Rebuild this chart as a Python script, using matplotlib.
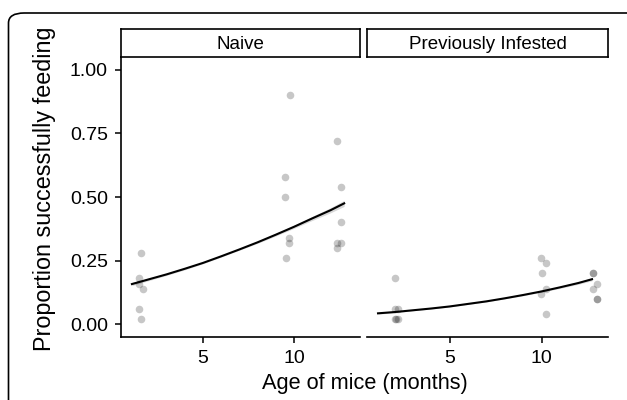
import numpy as np
import matplotlib
matplotlib.use("Agg")
import matplotlib.pyplot as plt
from matplotlib.patches import FancyBboxPatch

plt.rcParams['font.family'] = ['Liberation Sans', 'DejaVu Sans']

panels = ['Naive', 'Previously Infested']

# points (jittered age, proportion feeding)
naive_age = [1.59, 1.48, 1.48, 1.70, 1.48, 1.59,
             9.78, 9.49, 9.49, 9.74, 9.74, 9.58,
             12.35, 12.58, 12.58, 12.35, 12.58, 12.35]
naive_prop = [0.28, 0.18, 0.16, 0.14, 0.06, 0.02,
              0.90, 0.58, 0.50, 0.34, 0.32, 0.26,
              0.72, 0.54, 0.40, 0.32, 0.32, 0.30]
prev_age = [2.0, 2.0, 2.2, 2.0, 2.2, 2.1,
            9.98, 10.22, 10.04, 10.27, 9.98, 10.22,
            12.79, 12.79, 13.04, 12.79, 13.04, 13.04]
prev_prop = [0.18, 0.06, 0.06, 0.02, 0.02, 0.02,
             0.26, 0.24, 0.20, 0.14, 0.12, 0.04,
             0.20, 0.20, 0.16, 0.14, 0.10, 0.10]

# fitted curves
fit_age = [1.1, 2, 3, 4, 5, 6, 7, 8, 9, 10, 11, 12, 12.75]
naive_fit = [0.158, 0.176, 0.196, 0.218, 0.241, 0.267, 0.294,
             0.322, 0.352, 0.383, 0.416, 0.448, 0.475]
naive_se = [0.006, 0.005, 0.004, 0.004, 0.003, 0.003, 0.003,
            0.004, 0.005, 0.006, 0.008, 0.010, 0.012]
prev_fit = [0.043, 0.048, 0.055, 0.062, 0.070, 0.080, 0.090,
            0.102, 0.115, 0.129, 0.145, 0.162, 0.177]
prev_se = [0.003, 0.003, 0.002, 0.002, 0.002, 0.002, 0.002,
           0.002, 0.003, 0.003, 0.004, 0.005, 0.006]

yticks = [0.0, 0.25, 0.5, 0.75, 1.0]
ytick_labels = ['0.00', '0.25', '0.50', '0.75', '1.00']
xticks = [5, 10]

W, H = 627, 400
fig = plt.figure(figsize=(W / 100, H / 100), dpi=100)

# rounded outer frame, only top-left visible
frame = FancyBboxPatch((8.5 / W, -60 / H), (660 - 8.5) / W, (H - 13 + 60) / H,
                       boxstyle="round,pad=0,rounding_size=0.025",
                       transform=fig.transFigure, fill=False, lw=1.2,
                       ec='black', clip_on=False)
fig.patches.append(frame)

bottom = 1 - 337 / H
height = (337 - 57) / H
lefts = [121 / W, 367 / W]
widths = [(360 - 121) / W, (608 - 367) / W]

data = [(naive_age, naive_prop, naive_fit, naive_se),
        (prev_age, prev_prop, prev_fit, prev_se)]

for i, name in enumerate(panels):
    ax = fig.add_axes([lefts[i], bottom, widths[i], height])
    age, prop, fit, se = data[i]
    ax.scatter(age, prop, s=30, color='black', alpha=0.22, lw=0, zorder=2)
    lo = np.array(fit) - np.array(se)
    hi = np.array(fit) + np.array(se)
    ax.fill_between(fit_age, lo, hi, color='grey', alpha=0.3, lw=0, zorder=1)
    ax.plot(fit_age, fit, color='black', lw=1.5, zorder=3)
    ax.set_xlim(0.5, 13.62)
    ax.set_ylim(-0.05, 1.05)
    ax.set_xticks(xticks)
    ax.set_xticklabels([str(t) for t in xticks])
    ax.set_yticks(yticks)
    for s in ['top', 'right']:
        ax.spines[s].set_visible(False)
    ax.spines['bottom'].set_linewidth(1.2)
    ax.spines['left'].set_linewidth(1.2)
    ax.tick_params(direction='out', length=4, width=1.1, labelsize=14,
                   colors='black', pad=5.5)
    if i == 0:
        ax.set_yticklabels(ytick_labels)
        ax.set_ylabel('Proportion successfully feeding', fontsize=16.8)
        ax.yaxis.set_label_coords(-0.27, 0.53)
    else:
        ax.spines['left'].set_visible(False)
        ax.tick_params(axis='y', left=False, labelleft=False)

    # strip
    strip = fig.add_axes([lefts[i], 1 - 57 / H, widths[i], 28 / H])
    strip.set_xticks([])
    strip.set_yticks([])
    for s in strip.spines.values():
        s.set_linewidth(1.2)
    strip.text(0.5, 0.45, name, ha='center', va='center', fontsize=13.5,
               transform=strip.transAxes)

fig.text((121 + 608) / 2 / W, 1 - 384 / H, 'Age of mice (months)',
         ha='center', va='center', fontsize=15.7)

fig.savefig('out.png', dpi=100)
